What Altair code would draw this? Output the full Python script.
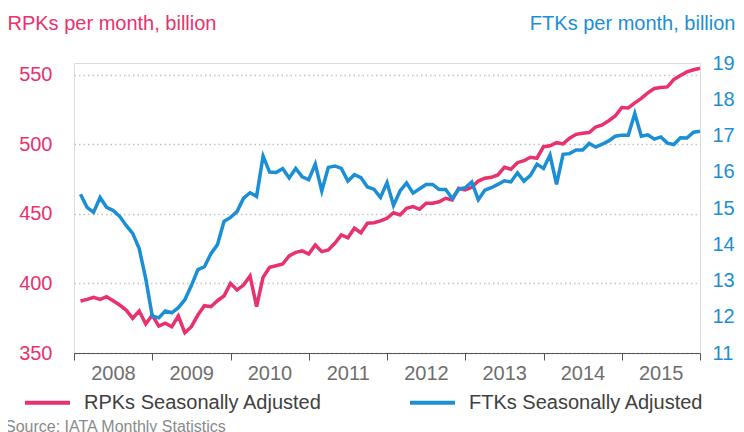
import altair as alt
import pandas as pd

START_YEAR = 2008
series_names = ["RPKs Seasonally Adjusted", "FTKs Seasonally Adjusted"]
colors = ["#E9316D", "#1A8FD6"]
years = [2008, 2009, 2010, 2011, 2012, 2013, 2014, 2015, 2016]
rpk_ticks = [350, 400, 450, 500, 550]
ftk_ticks = [11, 12, 13, 14, 15, 16, 17, 18, 19]

# monthly values, Jan 2008 .. Dec 2015
rpk = [387.4, 388.6, 390.1, 388.6, 390.5, 387.6, 384.5, 380.9, 375.0, 380.2, 370.9, 377.3,
       369.4, 371.4, 368.9, 376.6, 364.6, 368.9, 377.3, 384.0, 383.3, 387.6, 391.0, 400.1,
       395.3, 398.9, 405.4, 383.3, 404.5, 411.7, 412.8, 414.0, 419.8, 422.4, 423.4, 421.2,
       427.7, 422.9, 424.1, 428.9, 434.9, 432.9, 439.7, 436.5, 443.3, 443.7, 445.0, 446.9,
       450.9, 449.3, 454.1, 455.3, 453.4, 457.7, 457.7, 458.8, 461.3, 460.1, 468.5, 467.3,
       469.2, 473.7, 475.7, 476.4, 478.1, 483.6, 482.2, 486.9, 488.3, 490.8, 490.1, 498.4,
       499.1, 501.3, 500.4, 504.5, 507.3, 508.1, 508.6, 512.6, 514.0, 517.1, 520.5, 526.6,
       526.3, 529.9, 533.1, 537.1, 540.3, 541.0, 541.4, 546.8, 549.6, 552.2, 553.7, 554.8]
ftk = [15.38, 15.02, 14.88, 15.29, 15.02, 14.93, 14.77, 14.52, 14.30, 13.88, 13.05, 12.02,
       11.97, 12.16, 12.11, 12.25, 12.47, 12.86, 13.30, 13.38, 13.74, 13.99, 14.63, 14.74,
       14.90, 15.27, 15.42, 15.32, 16.43, 15.99, 15.98, 16.09, 15.83, 16.09, 15.86, 15.78,
       16.21, 15.47, 16.12, 16.16, 16.09, 15.74, 15.92, 15.84, 15.58, 15.52, 15.29, 15.70,
       15.07, 15.47, 15.69, 15.41, 15.53, 15.65, 15.65, 15.51, 15.51, 15.26, 15.52, 15.56,
       15.72, 15.23, 15.49, 15.56, 15.65, 15.75, 15.72, 15.97, 15.74, 15.90, 16.21, 16.09,
       16.46, 15.65, 16.48, 16.50, 16.60, 16.60, 16.78, 16.68, 16.76, 16.85, 16.98, 17.01,
       17.01, 17.61, 16.98, 17.02, 16.90, 16.96, 16.79, 16.75, 16.94, 16.93, 17.09, 17.12]

rows = []
for i, (r, f) in enumerate(zip(rpk, ftk)):
    t = START_YEAR + (i + 1) / 12
    rows.append({"t": t, "series": series_names[0], "value": r})
    rows.append({"t": t, "series": series_names[1], "value": f})
df = pd.DataFrame(rows)

FONT = "Liberation Sans"
PINK, BLUE = colors

x = alt.X("t:Q",
          scale=alt.Scale(domain=[2008, 2016], nice=False, zero=False),
          axis=alt.Axis(values=years, format="d",
                        labelExpr="datum.value >= 2016 ? '' : datum.label",
                        labelOffset=39, labelFlush=False, labelOverlap=False, labelBound=False,
                        labelFontSize=20, labelColor="#6e6e6e",
                        labelFont=FONT, labelPadding=3,
                        tickSize=7, tickColor="#555555", domainColor="#555555",
                        grid=False, title=None))

color = alt.Color("series:N",
                  scale=alt.Scale(domain=series_names, range=colors),
                  legend=alt.Legend(title=None, orient="none", legendX=-51, legendY=315,
                                    direction="horizontal", columns=2, columnPadding=80,
                                    symbolType="stroke", symbolStrokeWidth=4, symbolSize=2025,
                                    labelFontSize=20, labelOffset=12, labelLimit=400,
                                    labelColor="#404040", labelFont=FONT))

base = alt.Chart(df).encode(x=x, color=color)

rpk_layer = base.transform_filter(alt.datum.series == series_names[0]).mark_line(
    strokeWidth=3.5).encode(
    y=alt.Y("value:Q",
            scale=alt.Scale(domain=[350, 558.6], nice=False, zero=False),
            axis=alt.Axis(values=rpk_ticks, orient="left", labelColor=PINK, labelFontSize=20,
                          labelFont=FONT, ticks=False, tickSize=0, domain=False, labelPadding=22,
                          grid=True, gridDash=[1.5, 3], gridColor="#c4c4c4", gridWidth=1.5,
                          title="RPKs per month, billion", titleAngle=0, titleAlign="left",
                          titleX=-67, titleY=-34, titleBaseline="alphabetic", titleColor=PINK,
                          titleFontSize=20, titleFontWeight="normal", titleFont=FONT)))

ftk_layer = base.transform_filter(alt.datum.series == series_names[1]).mark_line(
    strokeWidth=3.5).encode(
    y=alt.Y("value:Q",
            scale=alt.Scale(domain=[11, 19], nice=False, zero=False),
            axis=alt.Axis(values=ftk_ticks, orient="right", labelColor=BLUE, labelFontSize=20,
                          labelFont=FONT, ticks=False, tickSize=0, domain=False, labelPadding=12,
                          grid=False,
                          title="FTKs per month, billion", titleAngle=0, titleAlign="right",
                          titleX=35, titleY=-34, titleBaseline="alphabetic", titleColor=BLUE,
                          titleFontSize=20, titleFontWeight="normal", titleFont=FONT)))

chart = alt.layer(rpk_layer, ftk_layer).resolve_scale(y="independent").properties(
    width=626, height=290,
    autosize=alt.AutoSizeParams(type="none"),
    padding={"left": 66, "top": 55, "right": 36, "bottom": 80},
    title=alt.TitleParams(text="Source: IATA Monthly Statistics", orient="bottom",
                          anchor="start", frame="bounds", fontSize=16, color="#8a8a8a",
                          fontWeight="normal", font=FONT, offset=6, dx=-2),
).configure_view(stroke=None).configure(font=FONT)

chart.save("out.html", embed_options={"renderer": "svg", "actions": False})
